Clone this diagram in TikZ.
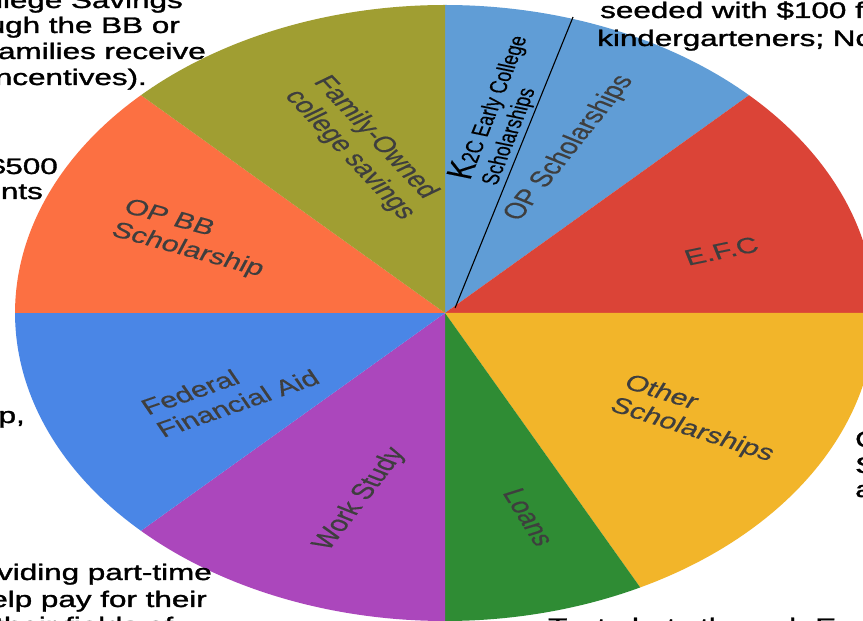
\documentclass[tikz,border=0pt]{standalone}
\usepackage{graphicx}
\usepackage{fontspec}
\setmainfont{Liberation Sans}
\newfontfamily\outfont[FakeBold=1.2]{Liberation Sans}
\newfontfamily\lblfont[FakeBold=0.4]{Liberation Sans}
\definecolor{sliceLB}{RGB}{96,157,214}
\definecolor{sliceRed}{RGB}{219,68,55}
\definecolor{sliceYel}{RGB}{242,181,42}
\definecolor{sliceGrn}{RGB}{47,140,52}
\definecolor{slicePur}{RGB}{171,71,188}
\definecolor{sliceBlue}{RGB}{74,134,230}
\definecolor{sliceOrg}{RGB}{252,112,66}
\definecolor{sliceOlv}{RGB}{160,158,50}
\definecolor{labelgray}{RGB}{62,62,62}
\newcommand{\wide}[1]{\scalebox{1.396}[1]{#1}}
\begin{document}
\begin{tikzpicture}[x=1pt,y=1pt,
  lbl/.style={text=labelgray, font=\lblfont\fontsize{22}{25}\selectfont, align=left, transform shape, inner sep=0pt},
  klbl/.style={text=black, font=\lblfont\fontsize{17.5}{20}\selectfont, align=left, transform shape, inner sep=0pt},
  outl/.style={font=\outfont\fontsize{22.5}{26}\selectfont, text=black, inner sep=0pt, anchor=base east},
  outr/.style={font=\outfont\fontsize{22.5}{26}\selectfont, text=black, inner sep=0pt, anchor=base west},
  divider/.style={draw=black, line width=1.1pt}]
\useasboundingbox (0,0) rectangle (863,621);
\clip (0,0) rectangle (863,621);
\fill[white] (0,0) rectangle (863,621);
\begin{scope}[shift={(445,308)}, xscale=1.396]
  \fill[sliceLB]   (0,0) -- (45:308)  arc[start angle=45, end angle=90, radius=308pt] -- cycle;
  \fill[sliceRed]  (0,0) -- (0:308)   arc[start angle=0, end angle=45, radius=308pt] -- cycle;
  \fill[sliceYel]  (0,0) -- (-63:308) arc[start angle=-63, end angle=0, radius=308pt] -- cycle;
  \fill[sliceGrn]  (0,0) -- (-90:308) arc[start angle=-90, end angle=-63, radius=308pt] -- cycle;
  \fill[slicePur]  (0,0) -- (225:308) arc[start angle=225, end angle=270, radius=308pt] -- cycle;
  \fill[sliceBlue] (0,0) -- (180:308) arc[start angle=180, end angle=225, radius=308pt] -- cycle;
  \fill[sliceOrg]  (0,0) -- (135:308) arc[start angle=135, end angle=180, radius=308pt] -- cycle;
  \fill[sliceOlv]  (0,0) -- (90:308)  arc[start angle=90, end angle=135, radius=308pt] -- cycle;
  \node[lbl, rotate=-56] (fam) at (-58,165) {Family-Owned\\college savings};
  \node[lbl, rotate=-21] (opbb) at (-180,74) {OP BB\\Scholarship};
  \node[lbl, rotate=26] (fed) at (-154,-79) {Federal\\Financial Aid};
  \node[lbl, rotate=61] (work) at (-61,-186) {Work Study};
  \node[lbl, rotate=-66] (loans) at (60,-204) {Loans};
  \node[lbl, rotate=-24] (other) at (182,-106) {Other\\Scholarships};
  \node[lbl, rotate=16] (efc) at (198,62) {E.F.C};
  \node[lbl, rotate=60] (opsch) at (89,165) {OP Scholarships};
  \node[klbl, rotate=74] (k2c) at (41,203) {{\fontsize{26}{26}\selectfont K}2C Early College\\Scholarships};
  \coordinate (divA) at (7.2,5);
  \coordinate (divB) at (91.7,296);
  \draw[divider] (divA) -- (divB);
\end{scope}
% text fragments around the chart
\node[outl] (t1) at (183,613) {\wide{llege Savings}};
\node[outl] (t2) at (180,588) {\wide{ugh the BB or}};
\node[outl] (t3) at (206,562) {\wide{amilies receive}};
\node[outl] (t4) at (147,536) {\wide{ncentives).}};
\node[outl] (t5) at (58,447) {\wide{\$500}};
\node[outl] (t6) at (43,422) {\wide{nts}};
\node[outl] (t7) at (25,198) {\wide{p,}};
\node[outl] (t8) at (212,41) {\wide{viding part-time}};
\node[outl] (t9) at (207,14) {\wide{elp pay for their}};
\node[outr] (t10) at (-5,-12) {\wide{their fields of}};
\node[outr] (r1) at (600,603) {\wide{seeded with \$100 f}};
\node[outr] (r2) at (597,575) {\wide{kindergarteners; No}};
\node[outr] (r3) at (855,174) {\wide{Other}};
\node[outr] (r4) at (855,148) {\wide{Scholarships}};
\node[outr] (r5) at (855,124) {\wide{and}};
\node[outr] (b1) at (548,-13) {\wide{Text alerts through Email}};
\end{tikzpicture}
\end{document}
